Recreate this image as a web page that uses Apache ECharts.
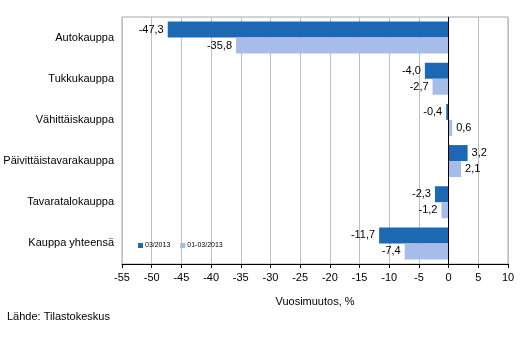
<!DOCTYPE html>
<html><head><meta charset="utf-8">
<script src="https://cdn.jsdelivr.net/npm/echarts@6/dist/echarts.min.js"></script>
<style>html,body{margin:0;padding:0;background:#fff}#c{width:532px;height:358px}</style>
</head><body><div id="c"></div>
<script>
const categories = ["Autokauppa","Tukkukauppa","Vähittäiskauppa","Päivittäistavarakauppa","Tavaratalokauppa","Kauppa yhteensä"];
const seriesNames = ["03/2013","01-03/2013"];
const month = [-47.3,-4.0,-0.4,3.2,-2.3,-11.7];
const ytd = [-35.8,-2.7,0.6,2.1,-1.2,-7.4];
const xMin = -55, xMax = 10, xStep = 5;

const fmt = v => v.toFixed(1).replace('.', ',');
const mkData = arr => arr.map(v => ({value: v, label: {position: v < 0 ? 'left' : 'right'}}));
const font = 'Liberation Sans, Arial, sans-serif';

const chart = echarts.init(document.getElementById('c'), null, {renderer: 'canvas'});
chart.setOption({
  animation: false,
  textStyle: {fontFamily: font},
  grid: {left: 122, right: 24, top: 17, bottom: 94, show: true, borderColor: '#a6a6a6', borderWidth: 1},
  legend: {
    data: seriesNames, left: 133, top: 237, itemWidth: 5, itemHeight: 5, itemGap: 10,
    icon: 'rect', textStyle: {fontSize: 7, color: '#000', fontFamily: font, padding: [0,0,0,-3]}
  },
  xAxis: {
    type: 'value', min: xMin, max: xMax, interval: xStep,
    name: 'Vuosimuutos, %', nameLocation: 'middle', nameGap: 32,
    nameTextStyle: {fontSize: 11, color: '#000', fontFamily: font},
    axisLine: {show: true, lineStyle: {color: '#000', width: 1}},
    axisTick: {show: true, length: 4, lineStyle: {color: '#000'}},
    axisLabel: {fontSize: 11, color: '#000', margin: 8, fontFamily: font},
    splitLine: {show: true, lineStyle: {color: '#bfbfbf', width: 1}}
  },
  yAxis: {
    type: 'category', data: categories, inverse: true,
    axisLine: {show: true, lineStyle: {color: '#a6a6a6'}},
    axisTick: {show: false},
    axisLabel: {fontSize: 11, color: '#000', margin: 8, fontFamily: font},
    splitLine: {show: false}
  },
  series: [
    {
      name: seriesNames[0], type: 'bar', data: mkData(month),
      barWidth: 16, barGap: '0%', barCategoryGap: '20%',
      itemStyle: {color: '#1c68b2'},
      label: {show: true, fontSize: 11, color: '#000', distance: 4, formatter: p => fmt(p.value), fontFamily: font},
      markLine: {silent: true, symbol: 'none', label: {show: false},
        lineStyle: {color: '#000', width: 1, type: 'solid'}, data: [{xAxis: 0}]}
    },
    {
      name: seriesNames[1], type: 'bar', data: mkData(ytd),
      barWidth: 16, barGap: '0%', barCategoryGap: '20%',
      itemStyle: {color: '#a7bde9'},
      label: {show: true, fontSize: 11, color: '#000', distance: 4, formatter: p => fmt(p.value), fontFamily: font}
    }
  ],
  graphic: [
    {type: 'text', left: 7, top: 311, style: {text: 'Lähde: Tilastokeskus', fontSize: 11, fill: '#000', fontFamily: font}}
  ]
});
</script></body></html>
